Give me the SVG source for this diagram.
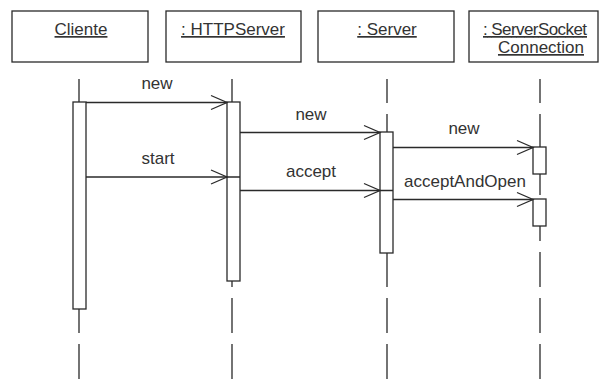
<svg xmlns="http://www.w3.org/2000/svg" width="601" height="388" viewBox="0 0 601 388">
  <defs>
    <style>
      .box { fill: #ffffff; stroke: #2a2a2a; stroke-width: 1.3; }
      .life { stroke: #2a2a2a; stroke-width: 1.3; stroke-dasharray: 35 11; stroke-dashoffset: 11; fill: none; }
      .act { fill: #ffffff; stroke: #2a2a2a; stroke-width: 1.3; }
      .msg { stroke: #2a2a2a; stroke-width: 1.3; fill: none; }
      .head { stroke: #2a2a2a; stroke-width: 1.3; fill: none; }
      .name { font-family: "Liberation Sans", Arial, sans-serif; font-size: 17px; fill: #333333; text-anchor: middle; text-decoration: underline; }
      .lbl { font-family: "Liberation Sans", Arial, sans-serif; font-size: 17px; fill: #333333; text-anchor: middle; }
    </style>
  </defs>
  <rect width="601" height="388" fill="#ffffff"/>

  <!-- object heads -->
  <g id="cliente">
    <rect class="box" x="12" y="11" width="136" height="51"/>
    <text class="name" x="81" y="35">Cliente</text>
  </g>
  <g id="httpserver">
    <rect class="box" x="166" y="11" width="135" height="51"/>
    <text class="name" x="233" y="35">: HTTPServer</text>
  </g>
  <g id="server">
    <rect class="box" x="318" y="11" width="136" height="51"/>
    <text class="name" x="387" y="35">: Server</text>
  </g>
  <g id="serversocketconnection">
    <rect class="box" x="469" y="11" width="129" height="51"/>
    <text class="name" x="535" y="35" textLength="104" lengthAdjust="spacing">: ServerSocket</text>
    <text class="name" x="541" y="53">Connection</text>
  </g>

  <!-- lifelines -->
  <g id="lifelines">
    <line class="life" x1="79" y1="79" x2="79" y2="379"/>
    <line class="life" x1="232" y1="79" x2="232" y2="379"/>
    <line class="life" x1="387" y1="79" x2="387" y2="379"/>
    <line class="life" x1="540" y1="79" x2="540" y2="379"/>
  </g>

  <!-- activation bars -->
  <g id="activations">
    <rect class="act" x="73" y="102" width="13" height="207"/>
    <rect class="act" x="227" y="102" width="13" height="179"/>
    <rect class="act" x="380" y="132" width="13" height="121"/>
    <rect class="act" x="533" y="147" width="13" height="27"/>
    <rect class="act" x="533" y="199" width="13" height="27"/>
  </g>

  <!-- messages -->
  <g id="connectors">
    <line class="msg" x1="86" y1="102.5" x2="227" y2="102.5"/>
    <polyline class="head" points="211,95.5 227,102.5 211,109.5"/>

    <line class="msg" x1="86" y1="177" x2="240" y2="177"/>
    <polyline class="head" points="211,170 227,177 211,184"/>

    <line class="msg" x1="240" y1="132.5" x2="380" y2="132.5"/>
    <polyline class="head" points="364,125.5 380,132.5 364,139.5"/>

    <line class="msg" x1="240" y1="190.5" x2="393" y2="190.5"/>
    <polyline class="head" points="364,183.5 380,190.5 364,197.5"/>

    <line class="msg" x1="393" y1="147.5" x2="533" y2="147.5"/>
    <polyline class="head" points="517,140.5 533,147.5 517,154.5"/>

    <line class="msg" x1="393" y1="199.5" x2="533" y2="199.5"/>
    <polyline class="head" points="517,192.5 533,199.5 517,206.5"/>
  </g>

  <!-- message labels -->
  <g id="labels">
    <text class="lbl" x="157" y="89">new</text>
    <text class="lbl" x="158" y="164">start</text>
    <text class="lbl" x="311" y="120">new</text>
    <text class="lbl" x="311" y="177">accept</text>
    <text class="lbl" x="464" y="134">new</text>
    <text class="lbl" x="465" y="187">acceptAndOpen</text>
  </g>
</svg>
